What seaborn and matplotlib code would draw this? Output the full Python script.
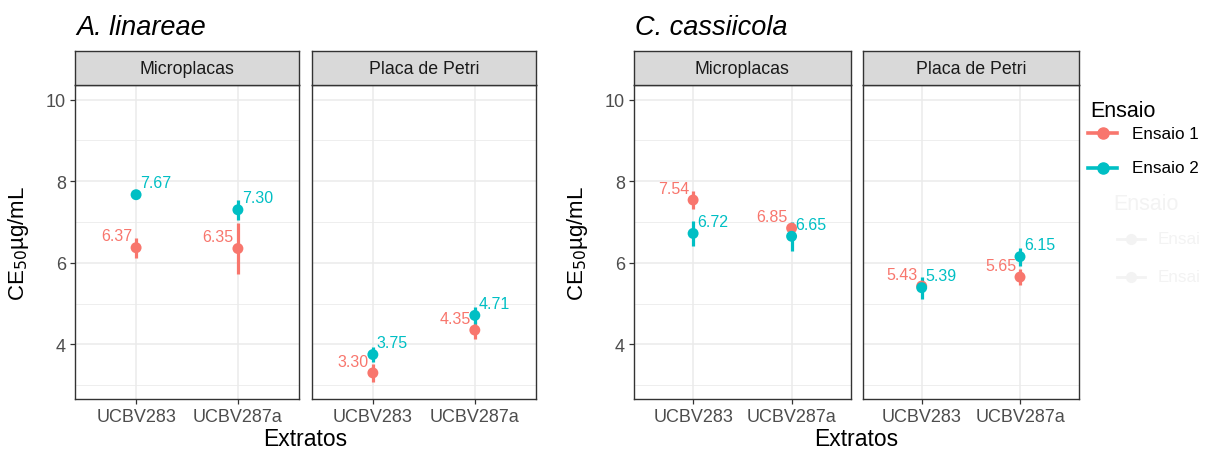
import matplotlib
matplotlib.use("Agg")
import matplotlib.pyplot as plt
import seaborn as sns
import pandas as pd
from matplotlib.lines import Line2D

# dados
extratos = ["UCBV283", "UCBV287a"]
metodos = ["Microplacas", "Placa de Petri"]
ensaios = ["Ensaio 1", "Ensaio 2"]
especies = ["A. linareae", "C. cassiicola"]

# A. linareae
lin_micro_e1 = [6.37, 6.35]
lin_micro_e1_err = [0.25, 0.63]
lin_micro_e2 = [7.67, 7.30]
lin_micro_e2_err = [0.05, 0.25]
lin_petri_e1 = [3.30, 4.35]
lin_petri_e1_err = [0.23, 0.21]
lin_petri_e2 = [3.75, 4.71]
lin_petri_e2_err = [0.18, 0.20]

# C. cassiicola
cas_micro_e1 = [7.54, 6.85]
cas_micro_e1_err = [0.23, 0.12]
cas_micro_e2 = [6.72, 6.65]
cas_micro_e2_err = [0.30, 0.36]
cas_petri_e1 = [5.43, 5.65]
cas_petri_e1_err = [0.12, 0.20]
cas_petri_e2 = [5.39, 6.15]
cas_petri_e2_err = [0.27, 0.22]

cores = {"Ensaio 1": "#F8766D", "Ensaio 2": "#00BFC4"}

tabela = {
    "A. linareae": {
        "Microplacas": [(lin_micro_e1, lin_micro_e1_err), (lin_micro_e2, lin_micro_e2_err)],
        "Placa de Petri": [(lin_petri_e1, lin_petri_e1_err), (lin_petri_e2, lin_petri_e2_err)],
    },
    "C. cassiicola": {
        "Microplacas": [(cas_micro_e1, cas_micro_e1_err), (cas_micro_e2, cas_micro_e2_err)],
        "Placa de Petri": [(cas_petri_e1, cas_petri_e1_err), (cas_petri_e2, cas_petri_e2_err)],
    },
}
rows = []
for esp in especies:
    for met in metodos:
        for ens, (vals, errs) in zip(ensaios, tabela[esp][met]):
            for ext, v, e in zip(extratos, vals, errs):
                rows.append(dict(Especie=esp, Metodo=met, Ensaio=ens, Extrato=ext, CE50=v, err=e))
df = pd.DataFrame(rows)

plt.rcParams["font.family"] = ["Liberation Sans", "DejaVu Sans"]

W, H = 1205, 452
fig = plt.figure(figsize=(W / 100, H / 100), dpi=100)


def rect(x0, x1, y0, y1):
    return [x0 / W, 1 - y1 / H, (x1 - x0) / W, (y1 - y0) / H]


def fx(x):
    return x / W


def fy(y):
    return 1 - y / H


# posições dos painéis (pixels)
paineis = {
    "A. linareae": [(75, 299), (311.7, 536)],
    "C. cassiicola": [(634, 850.7), (862.7, 1079)],
}
y_top, y_bot, strip_top = 86, 400, 52.3
grey20 = "#333333"

for esp, xs in paineis.items():
    for i, (met, (x0, x1)) in enumerate(zip(metodos, xs)):
        ax = fig.add_axes(rect(x0, x1, y_top, y_bot))
        sub = df[(df.Especie == esp) & (df.Metodo == met)]
        for ens in ensaios:
            s = sub[sub.Ensaio == ens]
            ax.vlines(s.Extrato, s.CE50 - s.err, s.CE50 + s.err, color=cores[ens], lw=2.3, zorder=3)
            sns.scatterplot(data=s, x="Extrato", y="CE50", color=cores[ens], s=62,
                            edgecolor="none", ax=ax, zorder=4, legend=False)
        for _, r in sub.iterrows():
            xi = extratos.index(r.Extrato)
            if r.Ensaio == "Ensaio 1":
                ax.text(xi - 0.04, r.CE50 + 0.29, f"{r.CE50:.2f}", ha="right", va="center",
                        color=cores[r.Ensaio], fontsize=11.5, zorder=5)
            else:
                ax.text(xi + 0.04, r.CE50 + 0.29, f"{r.CE50:.2f}", ha="left", va="center",
                        color=cores[r.Ensaio], fontsize=11.5, zorder=5)
        ax.set_xlim(-0.6, 1.6)
        ax.set_ylim(2.66, 10.36)
        ax.set_yticks([4, 6, 8, 10])
        ax.set_yticks([3, 5, 7, 9], minor=True)
        ax.grid(True, which="major", color="#EBEBEB", lw=1.1, zorder=0)
        ax.grid(True, which="minor", axis="y", color="#EBEBEB", lw=0.6, zorder=0)
        ax.set_axisbelow(True)
        for sp in ax.spines.values():
            sp.set_color(grey20)
            sp.set_linewidth(1.0)
        ax.tick_params(which="major", length=3.5, color=grey20, width=0.9,
                       labelsize=13, labelcolor="#4D4D4D", pad=3)
        ax.tick_params(which="minor", length=0)
        ax.set_xlabel("")
        ax.set_ylabel("")
        if i > 0:
            ax.tick_params(axis="y", length=0, labelleft=False)

        # faixa do facet
        sax = fig.add_axes(rect(x0, x1, strip_top, y_top))
        sax.set_facecolor("#D9D9D9")
        sax.set_xticks([])
        sax.set_yticks([])
        for sp in sax.spines.values():
            sp.set_color(grey20)
            sp.set_linewidth(1.0)
        sax.text(0.5, 0.5, met, ha="center", va="center", fontsize=12.8, color="#1A1A1A",
                 transform=sax.transAxes)

    xm = (xs[0][0] + xs[1][1]) / 2
    fig.text(fx(xm), fy(440), "Extratos", ha="center", va="center", fontsize=16.5)
    fig.text(fx(xs[0][0] - 56), fy(243), r"CE$_{50}$µg/mL", ha="center", va="center",
             rotation=90, fontsize=16)
    fig.text(fx(xs[0][0] + 1), fy(35), esp, ha="left", va="baseline", fontsize=19.5,
             style="italic")

# legenda
fig.text(fx(1090), fy(117), "Ensaio", ha="left", va="baseline", fontsize=15.5)
for ens, yk in zip(ensaios, [134.3, 169]):
    fig.add_artist(Line2D([fx(1088), fx(1117)], [fy(yk), fy(yk)], color=cores[ens], lw=2.6,
                          transform=fig.transFigure))
    fig.add_artist(Line2D([fx(1102.5)], [fy(yk)], color=cores[ens], marker="o", markersize=8,
                          transform=fig.transFigure))
    fig.text(fx(1131.5), fy(yk), ens, ha="left", va="center", fontsize=12.3)

# legenda fantasma (quase invisível, cortada na borda)
fantasma = "#F3F3F3"
fig.text(fx(1113), fy(205), "Ensaio", ha="left", va="center", fontsize=15.5, color=fantasma)
for yk in [240, 278]:
    fig.add_artist(Line2D([fx(1117), fx(1145)], [fy(yk), fy(yk)], color=fantasma, lw=2,
                          transform=fig.transFigure))
    fig.add_artist(Line2D([fx(1131)], [fy(yk)], color=fantasma, marker="o", markersize=7,
                          transform=fig.transFigure))
    fig.text(fx(1158), fy(yk), "Ensai", ha="left", va="center", fontsize=12.3, color=fantasma)

fig.savefig("out.png", dpi=100)
